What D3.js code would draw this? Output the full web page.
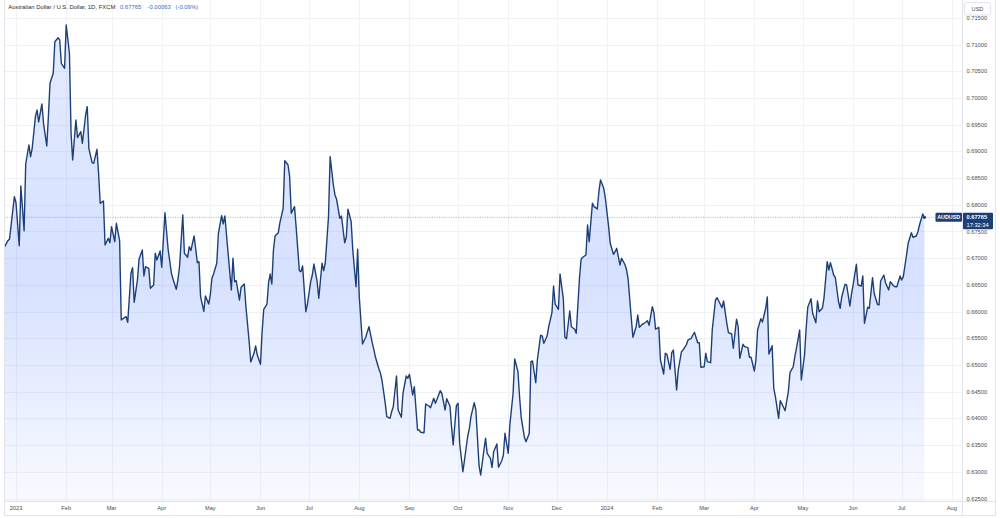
<!DOCTYPE html>
<html><head><meta charset="utf-8">
<script src="https://cdn.jsdelivr.net/npm/d3@7"></script>
<style>body{margin:0;background:#fff}svg{display:block}</style>
</head><body><svg id="c" width="1000" height="518"></svg>
<script>
const dates = [
"2022-12-25","2022-12-27","2022-12-28","2022-12-31","2023-01-01","2023-01-03","2023-01-04","2023-01-06","2023-01-07","2023-01-09",
"2023-01-10","2023-01-11","2023-01-13","2023-01-14","2023-01-15","2023-01-17","2023-01-18","2023-01-20","2023-01-21","2023-01-22",
"2023-01-24","2023-01-25","2023-01-27","2023-01-28","2023-01-29","2023-01-31","2023-02-01","2023-02-03","2023-02-04","2023-02-05",
"2023-02-07","2023-02-08","2023-02-10","2023-02-11","2023-02-13","2023-02-14","2023-02-15","2023-02-17","2023-02-18","2023-02-20",
"2023-02-21","2023-02-22","2023-02-24","2023-02-25","2023-02-27","2023-02-28","2023-03-01","2023-03-03","2023-03-04","2023-03-06",
"2023-03-07","2023-03-09","2023-03-10","2023-03-11","2023-03-13","2023-03-14","2023-03-15","2023-03-17","2023-03-18","2023-03-20",
"2023-03-21","2023-03-22","2023-03-24","2023-03-25","2023-03-27","2023-03-28","2023-03-29","2023-03-31","2023-04-01","2023-04-03",
"2023-04-04","2023-04-05","2023-04-07","2023-04-08","2023-04-10","2023-04-11","2023-04-12","2023-04-14","2023-04-15","2023-04-17",
"2023-04-18","2023-04-19","2023-04-21","2023-04-23","2023-04-24","2023-04-25","2023-04-27","2023-04-28","2023-04-30","2023-05-01",
"2023-05-02","2023-05-03","2023-05-05","2023-05-06","2023-05-08","2023-05-09","2023-05-10","2023-05-12","2023-05-14","2023-05-15",
"2023-05-16","2023-05-17","2023-05-19","2023-05-20","2023-05-22","2023-05-23","2023-05-25","2023-05-26","2023-05-28","2023-05-29",
"2023-05-30","2023-06-01","2023-06-02","2023-06-03","2023-06-05","2023-06-06","2023-06-07","2023-06-08","2023-06-09","2023-06-10",
"2023-06-12","2023-06-13","2023-06-15","2023-06-16","2023-06-18","2023-06-19","2023-06-20","2023-06-22","2023-06-23","2023-06-25",
"2023-06-26","2023-06-27","2023-06-29","2023-06-30","2023-07-02","2023-07-03","2023-07-04","2023-07-06","2023-07-07","2023-07-09",
"2023-07-10","2023-07-11","2023-07-13","2023-07-14","2023-07-16","2023-07-17","2023-07-18","2023-07-20","2023-07-21","2023-07-23",
"2023-07-24","2023-07-25","2023-07-27","2023-07-28","2023-07-30","2023-07-31","2023-08-01","2023-08-03","2023-08-05","2023-08-06",
"2023-08-07","2023-08-09","2023-08-10","2023-08-11","2023-08-13","2023-08-14","2023-08-15","2023-08-17","2023-08-18","2023-08-20",
"2023-08-21","2023-08-22","2023-08-24","2023-08-25","2023-08-27","2023-08-28","2023-08-30","2023-08-31","2023-09-01","2023-09-03",
"2023-09-04","2023-09-06","2023-09-07","2023-09-08","2023-09-10","2023-09-11","2023-09-13","2023-09-14","2023-09-16","2023-09-17",
"2023-09-18","2023-09-20","2023-09-21","2023-09-23","2023-09-24","2023-09-26","2023-09-27","2023-09-28","2023-09-30","2023-10-01",
"2023-10-02","2023-10-04","2023-10-05","2023-10-07","2023-10-08","2023-10-09","2023-10-11","2023-10-12","2023-10-14","2023-10-15",
"2023-10-17","2023-10-18","2023-10-19","2023-10-21","2023-10-22","2023-10-23","2023-10-25","2023-10-26","2023-10-28","2023-10-29",
"2023-10-30","2023-11-01","2023-11-02","2023-11-04","2023-11-05","2023-11-07","2023-11-08","2023-11-09","2023-11-11","2023-11-12",
"2023-11-14","2023-11-15","2023-11-16","2023-11-18","2023-11-19","2023-11-21","2023-11-22","2023-11-23","2023-11-25","2023-11-26",
"2023-11-28","2023-11-29","2023-11-30","2023-12-02","2023-12-03","2023-12-05","2023-12-06","2023-12-07","2023-12-09","2023-12-10",
"2023-12-12","2023-12-13","2023-12-15","2023-12-16","2023-12-17","2023-12-19","2023-12-20","2023-12-21","2023-12-23","2023-12-24",
"2023-12-26","2023-12-27","2023-12-28","2023-12-30","2023-12-31","2024-01-02","2024-01-03","2024-01-05","2024-01-06","2024-01-07",
"2024-01-09","2024-01-10","2024-01-12","2024-01-13","2024-01-14","2024-01-16","2024-01-17","2024-01-19","2024-01-20","2024-01-21",
"2024-01-23","2024-01-24","2024-01-26","2024-01-27","2024-01-29","2024-01-30","2024-01-31","2024-02-02","2024-02-03","2024-02-05",
"2024-02-06","2024-02-07","2024-02-09","2024-02-10","2024-02-11","2024-02-13","2024-02-14","2024-02-16","2024-02-17","2024-02-19",
"2024-02-20","2024-02-22","2024-02-23","2024-02-24","2024-02-26","2024-02-27","2024-02-28","2024-03-01","2024-03-02","2024-03-03",
"2024-03-05","2024-03-06","2024-03-08","2024-03-09","2024-03-11","2024-03-12","2024-03-13","2024-03-15","2024-03-16","2024-03-18",
"2024-03-19","2024-03-21","2024-03-22","2024-03-23","2024-03-25","2024-03-26","2024-03-28","2024-03-29","2024-03-30","2024-04-01",
"2024-04-02","2024-04-03","2024-04-05","2024-04-06","2024-04-08","2024-04-09","2024-04-10","2024-04-12","2024-04-13","2024-04-14",
"2024-04-16","2024-04-17","2024-04-19","2024-04-20","2024-04-22","2024-04-23","2024-04-25","2024-04-26","2024-04-27","2024-04-29",
"2024-04-30","2024-05-02","2024-05-03","2024-05-04","2024-05-06","2024-05-07","2024-05-09","2024-05-10","2024-05-11","2024-05-13",
"2024-05-14","2024-05-16","2024-05-17","2024-05-18","2024-05-20","2024-05-21","2024-05-23","2024-05-24","2024-05-25","2024-05-27",
"2024-05-28","2024-05-30","2024-05-31","2024-06-01","2024-06-03","2024-06-04","2024-06-06","2024-06-07","2024-06-08","2024-06-10",
"2024-06-11","2024-06-13","2024-06-14","2024-06-16","2024-06-17","2024-06-18","2024-06-20","2024-06-21","2024-06-23","2024-06-24",
"2024-06-26","2024-06-27","2024-06-28","2024-06-30","2024-07-01","2024-07-02","2024-07-04","2024-07-05","2024-07-07","2024-07-08",
"2024-07-10","2024-07-11","2024-07-12","2024-07-14","2024-07-15"];
const closes = [
0.67216,0.67328,0.67360,0.68152,0.68039,0.67234,0.68352,0.67515,0.68764,0.69120,
0.68901,0.69058,0.69650,0.69775,0.69551,0.69888,0.69526,0.69101,0.69650,0.70275,
0.70463,0.71054,0.71129,0.71086,0.70650,0.70556,0.71367,0.70837,0.69339,0.68839,
0.69588,0.69257,0.69369,0.69152,0.69682,0.69837,0.69058,0.68789,0.68777,0.69039,
0.68590,0.68028,0.68071,0.67247,0.67373,0.67290,0.67590,0.67309,0.67654,0.67328,
0.65843,0.65886,0.65905,0.65800,0.66717,0.66822,0.66174,0.66592,0.66980,0.67154,
0.66667,0.66841,0.66811,0.66436,0.66498,0.67092,0.66966,0.67135,0.66830,0.67852,
0.67496,0.67154,0.66717,0.66605,0.66418,0.66592,0.66841,0.67809,0.67092,0.67017,
0.67216,0.67144,0.67416,0.66916,0.66935,0.66279,0.66006,0.66292,0.66142,0.66311,
0.66624,0.66704,0.66905,0.67466,0.67796,0.67641,0.67790,0.67092,0.66405,0.66998,
0.66560,0.66579,0.66217,0.66455,0.66517,0.66092,0.65436,0.65056,0.65219,0.65356,
0.65187,0.65013,0.65624,0.66043,0.66142,0.66541,0.66704,0.66517,0.67154,0.67416,
0.67478,0.67665,0.67935,0.68826,0.68745,0.68526,0.67841,0.67965,0.67590,0.66766,
0.66747,0.66854,0.65998,0.66142,0.66560,0.66685,0.66891,0.66560,0.66249,0.66905,
0.66766,0.66905,0.67777,0.68901,0.68371,0.68184,0.68103,0.67747,0.67790,0.67290,
0.67392,0.67916,0.67684,0.67154,0.66466,0.67167,0.66279,0.65393,0.65519,0.65624,
0.65717,0.65418,0.65294,0.65144,0.64938,0.64856,0.64719,0.64294,0.64032,0.64002,
0.64125,0.64219,0.64794,0.64157,0.64021,0.64470,0.64794,0.64751,0.64826,0.64438,
0.64594,0.63783,0.63783,0.63740,0.63732,0.64270,0.64232,0.64200,0.64376,0.64283,
0.64358,0.64519,0.64470,0.64157,0.64369,0.64232,0.63845,0.63502,0.64245,0.64283,
0.63534,0.63002,0.63221,0.63670,0.63815,0.64032,0.64294,0.64157,0.63109,0.62940,
0.63408,0.63627,0.63346,0.63253,0.63084,0.63376,0.63521,0.63084,0.63208,0.63315,
0.63721,0.63346,0.63876,0.64470,0.65112,0.64875,0.64406,0.64021,0.63646,0.63564,
0.63721,0.65062,0.65075,0.64669,0.65094,0.65556,0.65543,0.65406,0.65543,0.65717,
0.65980,0.66480,0.66142,0.66043,0.66704,0.66249,0.65519,0.65493,0.66011,0.65717,
0.65669,0.65594,0.66624,0.66980,0.67017,0.67060,0.67622,0.67309,0.68028,0.67965,
0.67921,0.68245,0.68465,0.68309,0.68122,0.67590,0.67279,0.67073,0.67122,0.67186,
0.66873,0.66998,0.66886,0.66792,0.66624,0.65875,0.65519,0.65717,0.65936,0.65706,
0.65768,0.65781,0.65830,0.65743,0.66092,0.65980,0.65669,0.65706,0.65094,0.64832,
0.65219,0.65200,0.64920,0.65230,0.65281,0.64532,0.64906,0.65249,0.65281,0.65375,
0.65468,0.65500,0.65562,0.65612,0.65418,0.65418,0.64957,0.64968,0.65219,0.65062,
0.65043,0.65656,0.66217,0.66260,0.66137,0.66073,0.66199,0.65781,0.65605,0.65581,
0.65313,0.65856,0.65717,0.65126,0.65388,0.65343,0.65324,0.65144,0.65144,0.64888,
0.65094,0.65656,0.65867,0.65805,0.66058,0.66274,0.65206,0.65361,0.64564,0.64406,
0.64002,0.64332,0.64208,0.64144,0.64500,0.64856,0.64968,0.65156,0.65313,0.65656,
0.64719,0.65187,0.65687,0.66081,0.66242,0.65968,0.65792,0.66199,0.65998,0.66062,
0.66249,0.66935,0.66779,0.66916,0.66685,0.66642,0.66185,0.66062,0.66279,0.66511,
0.66498,0.66105,0.66330,0.66498,0.66886,0.66498,0.66480,0.66667,0.65781,0.66081,
0.66062,0.66635,0.66343,0.66137,0.66124,0.66573,0.66685,0.66541,0.66405,0.66560,
0.66480,0.66466,0.66466,0.66667,0.66592,0.66654,0.67060,0.67279,0.67478,0.67392,
0.67416,0.67496,0.67622,0.67828,0.67765];
const yTicks = [0.625,0.630,0.635,0.640,0.645,0.650,0.655,0.660,0.665,0.670,0.675,0.680,0.685,0.690,0.695,0.700,0.705,0.710,0.715];
const xTickDates = ["2023-01-01","2023-02-01","2023-03-01","2023-04-01","2023-05-01","2023-06-01","2023-07-01","2023-08-01","2023-09-01","2023-10-01",
"2023-11-01","2023-12-01","2024-01-01","2024-02-01","2024-03-01","2024-04-01","2024-05-01","2024-06-01","2024-07-01","2024-08-01"];
const xTickLabels = ["2023","Feb","Mar","Apr","May","Jun","Jul","Aug","Sep","Oct","Nov","Dec","2024","Feb","Mar","Apr","May","Jun","Jul","Aug"];
const title = "Australian Dollar / U.S. Dollar, 1D, FXCM";
const lastPrice = 0.67765, changeAbs = "-0.00063", changePct = "(-0.09%)";
const symbol = "AUDUSD", countdown = "17:32:34", currency = "USD";

const parse = d3.utcParse("%Y-%m-%d");
const data = dates.map((d, i) => ({date: parse(d), value: closes[i]}));
const P = {l: 4.5, r: 962.5, t: 0, b: 501.5};
const x = d3.scaleUtc().domain([parse("2023-01-01"), parse("2024-01-01")]).range([16, 607]);
const y = d3.scaleLinear().domain([0.625, 0.71]).range([498.5, 44.6]);
const navy = "#1d3f78";
const font = "'Liberation Sans', Arial, sans-serif";

const svg = d3.select("#c");
const defs = svg.append("defs");
defs.append("clipPath").attr("id", "clip").append("rect")
  .attr("x", P.l).attr("y", P.t).attr("width", P.r - P.l).attr("height", P.b - P.t);
const grad = defs.append("linearGradient").attr("id", "fillg")
  .attr("gradientUnits", "userSpaceOnUse").attr("x1", 0).attr("x2", 0).attr("y1", 0).attr("y2", P.b);
grad.append("stop").attr("offset", 0).attr("stop-color", "#2962ff").attr("stop-opacity", 0.12);
grad.append("stop").attr("offset", 0.55).attr("stop-color", "#2962ff").attr("stop-opacity", 0.19);
grad.append("stop").attr("offset", 1).attr("stop-color", "#2962ff").attr("stop-opacity", 0.03);

// grid
const g = svg.append("g");
g.selectAll(".vg").data(xTickDates).join("line")
  .attr("x1", d => Math.round(x(parse(d))) + 0.5).attr("x2", d => Math.round(x(parse(d))) + 0.5)
  .attr("y1", P.t).attr("y2", P.b).attr("stroke", "#f1f2f6").attr("stroke-width", 1);
g.selectAll(".hg").data(yTicks).join("line")
  .attr("x1", P.l).attr("x2", P.r)
  .attr("y1", d => Math.round(y(d)) + 0.5).attr("y2", d => Math.round(y(d)) + 0.5)
  .attr("stroke", "#f1f2f6").attr("stroke-width", 1);

// series
const plot = svg.append("g").attr("clip-path", "url(#clip)");
plot.append("path").datum(data)
  .attr("d", d3.area().x(d => x(d.date)).y0(P.b).y1(d => y(d.value)))
  .attr("fill", "url(#fillg)");
plot.append("line").attr("x1", P.l).attr("x2", P.r)
  .attr("y1", y(lastPrice)).attr("y2", y(lastPrice))
  .attr("stroke", "#8e9bb8").attr("stroke-width", 0.7).attr("stroke-dasharray", "1.2,1.2");
plot.append("path").datum(data)
  .attr("d", d3.line().x(d => x(d.date)).y(d => y(d.value)))
  .attr("fill", "none").attr("stroke", navy).attr("stroke-width", 1.4).attr("stroke-linejoin", "round");
const last = data[data.length - 1];
plot.append("circle").attr("cx", x(last.date)).attr("cy", y(last.value)).attr("r", 1.6).attr("fill", navy);

// frame
const fr = svg.append("g").attr("stroke", "#e0e3eb").attr("stroke-width", 1).attr("fill", "none");
fr.append("line").attr("x1", P.l).attr("x2", P.l).attr("y1", 0).attr("y2", 515.5);
fr.append("line").attr("x1", P.r).attr("x2", P.r).attr("y1", 0).attr("y2", 515.5);
fr.append("line").attr("x1", P.l).attr("x2", 995.5).attr("y1", P.b).attr("y2", P.b);
fr.append("line").attr("x1", P.l).attr("x2", 995.5).attr("y1", 515.5).attr("y2", 515.5);
fr.append("line").attr("x1", 995.5).attr("x2", 995.5).attr("y1", 0).attr("y2", 515.5);

// x labels
svg.append("g").selectAll("text").data(xTickDates).join("text")
  .attr("x", d => x(parse(d))).attr("y", 510)
  .attr("text-anchor", "middle").attr("font-family", font).attr("font-size", 5.7)
  .attr("fill", "#4a4e5a").text((d, i) => xTickLabels[i]);

// y labels
svg.append("g").selectAll("text").data(yTicks).join("text")
  .attr("x", 966.5).attr("y", d => y(d) + 2)
  .attr("font-family", font).attr("font-size", 5.7).attr("fill", "#4a4e5a")
  .text(d3.format(".5f"));

// currency box
svg.append("rect").attr("x", 964.5).attr("y", 2.5).attr("width", 26).attr("height", 12.5).attr("rx", 2)
  .attr("fill", "#fff").attr("stroke", "#e0e3eb");
svg.append("text").attr("x", 977.5).attr("y", 10.9).attr("text-anchor", "middle")
  .attr("font-family", font).attr("font-size", 5.6).attr("fill", "#4a4e5a").text(currency);

// last price labels
const ly = y(lastPrice);
svg.append("rect").attr("x", 935.5).attr("y", ly - 4.5).attr("width", 26.5).attr("height", 9).attr("rx", 1).attr("fill", navy);
svg.append("text").attr("x", 948.7).attr("y", ly + 2).attr("text-anchor", "middle")
  .attr("font-family", font).attr("font-size", 5.4).attr("font-weight", "bold").attr("fill", "#fff").text(symbol);
svg.append("rect").attr("x", 963).attr("y", ly - 4.6).attr("width", 30).attr("height", 16.6).attr("rx", 1).attr("fill", navy);
svg.append("text").attr("x", 966.5).attr("y", ly + 2.1)
  .attr("font-family", font).attr("font-size", 5.7).attr("font-weight", "bold").attr("fill", "#fff").text(d3.format(".5f")(lastPrice));
svg.append("text").attr("x", 966.5).attr("y", ly + 10)
  .attr("font-family", font).attr("font-size", 5.7).attr("fill", "#fff").text(countdown);

// header
const h = svg.append("text").attr("x", 8.3).attr("y", 9.4).attr("font-family", font).attr("font-size", 5.9);
h.append("tspan").attr("fill", "#2a2e39").text(title);
h.append("tspan").attr("x", 120).attr("fill", "#4169c8").text(d3.format(".5f")(lastPrice));
h.append("tspan").attr("x", 147.5).attr("fill", "#4169c8").text(changeAbs);
h.append("tspan").attr("x", 175.5).attr("fill", "#4169c8").text(changePct);
</script></body></html>
